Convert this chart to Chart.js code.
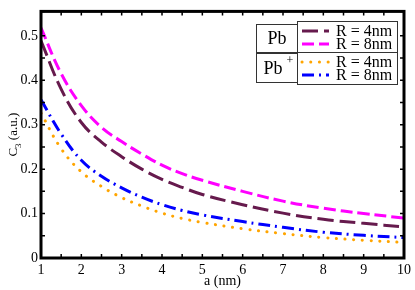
<!DOCTYPE html>
<html>
<head>
<meta charset="utf-8">
<script src="https://cdn.jsdelivr.net/npm/chart.js@4.4.1/dist/chart.umd.min.js"></script>
<style>
  html, body { margin: 0; padding: 0; background: #fff; }
  #wrap { width: 415px; height: 290px; position: relative; }
</style>
</head>
<body>
<div id="wrap"><canvas id="c3Chart"></canvas></div>
<script>
// separation a (nm)
const aValues = [1, 1.5, 2, 2.5, 3, 3.5, 4, 4.5, 5, 6, 7, 8, 9, 10];
// C3 (a.u.)
const pbR4 = [0.489, 0.380, 0.305, 0.261, 0.228, 0.200, 0.177, 0.159, 0.143, 0.120, 0.101, 0.087, 0.078, 0.070];
const pbR8 = [0.518, 0.415, 0.343, 0.294, 0.262, 0.234, 0.209, 0.190, 0.175, 0.150, 0.128, 0.112, 0.100, 0.090];
const pbPlusR4 = [0.326, 0.246, 0.194, 0.161, 0.136, 0.117, 0.101, 0.089, 0.080, 0.066, 0.055, 0.046, 0.040, 0.035];
const pbPlusR8 = [0.356, 0.279, 0.220, 0.184, 0.158, 0.137, 0.120, 0.107, 0.097, 0.082, 0.069, 0.058, 0.051, 0.046];
const xTickLabels = ['1', '2', '3', '4', '5', '6', '7', '8', '9', '10'];
const yTickLabels = ['0', '0.1', '0.2', '0.3', '0.4', '0.5'];

const serif = "'Liberation Serif', 'DejaVu Serif', serif";

function pts(ys) {
    return aValues.map((a, i) => ({ x: a, y: ys[i] }));
}

// inward ticks, thick frame and the two-part legend
const framePlugin = {
    id: 'frame',
    afterDraw(chart) {
        const ctx = chart.ctx;
        const area = chart.chartArea;
        const xs = chart.scales.x, ys = chart.scales.y;
        ctx.save();
        ctx.strokeStyle = '#000';
        ctx.lineWidth = 1.5;
        xs.ticks.forEach(t => {
            const px = xs.getPixelForValue(t.value);
            ctx.beginPath();
            ctx.moveTo(px, area.bottom); ctx.lineTo(px, area.bottom - 4);
            ctx.moveTo(px, area.top); ctx.lineTo(px, area.top + 4);
            ctx.stroke();
        });
        ys.ticks.forEach(t => {
            const py = ys.getPixelForValue(t.value);
            ctx.beginPath();
            ctx.moveTo(area.left, py); ctx.lineTo(area.left + 4, py);
            ctx.moveTo(area.right, py); ctx.lineTo(area.right - 4, py);
            ctx.stroke();
        });
        ctx.lineWidth = 3;
        ctx.strokeRect(area.left, area.top, area.right - area.left, area.bottom - area.top);

        // y title with subscript
        ctx.fillStyle = '#000';
        ctx.translate(13, (area.top + area.bottom) / 2);
        ctx.rotate(-Math.PI / 2);
        ctx.textBaseline = 'alphabetic';
        const main = 'C', sub = '3', rest = ' (a.u.)';
        ctx.font = '13px ' + serif;
        const w1 = ctx.measureText(main).width;
        const w3 = ctx.measureText(rest).width;
        ctx.font = '9px ' + serif;
        const w2 = ctx.measureText(sub).width;
        const x0 = -(w1 + w2 + w3) / 2;
        ctx.font = '13px ' + serif;
        ctx.fillText(main, x0, 4);
        ctx.font = '9px ' + serif;
        ctx.fillText(sub, x0 + w1, 8);
        ctx.font = '13px ' + serif;
        ctx.fillText(rest, x0 + w1 + w2, 4);
        ctx.restore();

        // legend boxes
        ctx.save();
        ctx.strokeStyle = '#333';
        ctx.lineWidth = 1;
        ctx.fillStyle = '#fff';
        [[256.5, 24.5, 41, 28], [256.5, 53.5, 41, 29], [297.5, 21.5, 100, 31], [297.5, 52.5, 100, 32]].forEach(r => {
            ctx.fillRect(r[0], r[1], r[2], r[3]);
            ctx.strokeRect(r[0], r[1], r[2], r[3]);
        });
        ctx.fillStyle = '#000';
        ctx.textBaseline = 'middle';
        ctx.textAlign = 'center';
        ctx.font = '18px ' + serif;
        ctx.fillText('Pb', 277, 39);
        ctx.fillText('Pb', 273, 69);
        ctx.font = '12px ' + serif;
        ctx.fillText('+', 290, 61);
        ctx.textAlign = 'left';
        ctx.font = '16px ' + serif;
        const ds = chart.data.datasets;
        const rows = [31, 44, 62, 75];
        ds.forEach((d, i) => {
            ctx.save();
            ctx.strokeStyle = d.borderColor;
            ctx.lineWidth = d.borderWidth;
            ctx.lineCap = d.borderCapStyle || 'butt';
            ctx.setLineDash(d.borderDash || []);
            ctx.beginPath();
            ctx.moveTo(302, rows[i]);
            ctx.lineTo(329, rows[i]);
            ctx.stroke();
            ctx.restore();
            ctx.fillText(d.label, 336, rows[i] + 1);
        });
        ctx.restore();
    }
};

const ctx = document.getElementById('c3Chart').getContext('2d');
const c3Chart = new Chart(ctx, {
    type: 'line',
    data: {
        datasets: [{
            label: 'R = 4nm',
            data: pts(pbR4),
            borderColor: '#661a4d',
            borderWidth: 3,
            borderDash: [16, 6]
        }, {
            label: 'R = 8nm',
            data: pts(pbR8),
            borderColor: '#ff00ff',
            borderWidth: 3,
            borderDash: [12, 5]
        }, {
            label: 'R = 4nm',
            data: pts(pbPlusR4),
            borderColor: '#ffa500',
            borderWidth: 3,
            borderCapStyle: 'round',
            borderDash: [0.1, 8.6]
        }, {
            label: 'R = 8nm',
            data: pts(pbPlusR8),
            borderColor: '#0000ff',
            borderWidth: 3,
            borderDash: [12, 5, 2, 5]
        }]
    },
    options: {
        responsive: true,
        maintainAspectRatio: false,
        animation: false,
        layout: { padding: { top: 3, right: 7, left: 0, bottom: 0 } },
        elements: {
            point: { radius: 0 },
            line: { tension: 0.4, fill: false }
        },
        plugins: {
            legend: { display: false },
            tooltip: { enabled: false }
        },
        scales: {
            x: {
                type: 'linear',
                min: 1,
                max: 10,
                grid: { drawOnChartArea: false, drawTicks: false },
                border: { display: false },
                ticks: {
                    stepSize: 0.5,
                    autoSkip: false,
                    maxRotation: 0,
                    padding: 4,
                    color: '#000',
                    font: { family: serif, size: 14 },
                    callback: v => Number.isInteger(v) ? xTickLabels[v - 1] : ''
                },
                title: {
                    display: true,
                    text: 'a (nm)',
                    color: '#000',
                    font: { family: serif, size: 14 },
                    padding: { top: -2, bottom: 0 }
                },
                afterFit: s => { s.height = 32; }
            },
            y: {
                min: 0,
                max: 0.555,
                grid: { drawOnChartArea: false, drawTicks: false },
                border: { display: false },
                ticks: {
                    stepSize: 0.05,
                    autoSkip: false,
                    padding: 3,
                    color: '#000',
                    font: { family: serif, size: 14 },
                    callback: v => {
                        const k = Math.round(v * 20);
                        return k % 2 === 0 ? yTickLabels[k / 2] : '';
                    }
                },
                afterFit: s => { s.width = 41; }
            }
        }
    },
    plugins: [framePlugin]
});
</script>
</body>
</html>
